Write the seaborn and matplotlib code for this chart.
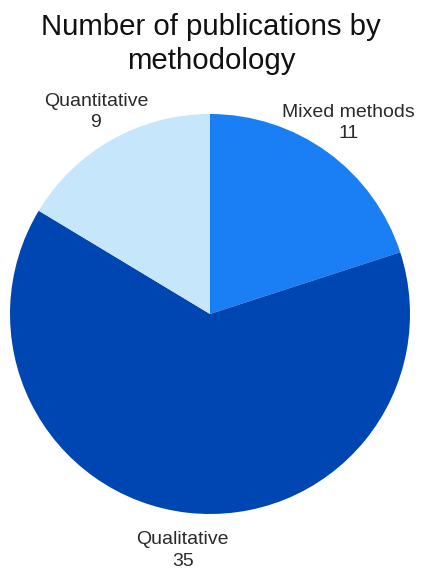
import matplotlib
matplotlib.use("Agg")
import numpy as np
import matplotlib.pyplot as plt
import seaborn as sns

sns.set_theme(style="white")
plt.rcParams["font.family"] = ["Liberation Sans", "DejaVu Sans"]

categories = ["Mixed methods", "Qualitative", "Quantitative"]
counts = [11, 35, 9]
colors = ["#1a7ff4", "#0046b2", "#c6e6fc"]
label_radius = [1.18, 1.19, 1.16]

fig = plt.figure(figsize=(4.22, 5.69), dpi=100)
ax = fig.add_axes([10 / 422, 55 / 569, 400 / 422, 400 / 569])

wedges, _ = ax.pie(
    counts,
    colors=colors,
    startangle=90,
    counterclock=False,
    wedgeprops=dict(linewidth=0),
)

# category name and count outside each wedge, centred on its mid-angle
for w, cat, n, r in zip(wedges, categories, counts, label_radius):
    mid = np.deg2rad((w.theta1 + w.theta2) / 2)
    ax.text(r * np.cos(mid), r * np.sin(mid), f"{cat}\n{n}",
            ha="center", va="center", fontsize=14, color="#2a2a2a",
            linespacing=1.35)

ax.set_aspect("equal")
ax.set_xlim(-1, 1)
ax.set_ylim(-1, 1)
ax.axis("off")

fig.text(0.5, 1 - 44 / 569, "Number of publications by\nmethodology",
         ha="center", va="center", fontsize=21.2, color="#111111",
         linespacing=1.25)

fig.savefig("out.png", dpi=100)
